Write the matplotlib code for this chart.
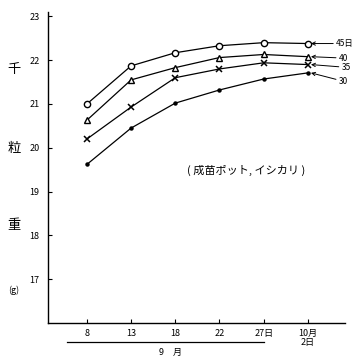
import matplotlib
matplotlib.use("Agg")
import matplotlib.pyplot as plt
from matplotlib.transforms import blended_transform_factory

plt.rcParams['font.family'] = ['Noto Sans CJK JP', 'DejaVu Sans']

dates = ["8", "13", "18", "22", "27日", "10月\n2日"]
yticks = [17, 18, 19, 20, 21, 22, 23]
ytick_labels = ["17", "18", "19", "20", "21", "22", "23"]

s45 = [21.00, 21.87, 22.17, 22.33, 22.40, 22.38]
s40 = [20.63, 21.55, 21.83, 22.06, 22.13, 22.08]
s35 = [20.20, 20.93, 21.60, 21.80, 21.94, 21.90]
s30 = [19.62, 20.45, 21.02, 21.32, 21.57, 21.71]

series = [
    (s45, "45日", dict(marker='o', ms=4.5, mfc='white', mec='black', mew=1.0)),
    (s40, "40", dict(marker='^', ms=4.5, mfc='white', mec='black', mew=1.0)),
    (s35, "35", dict(marker='x', ms=4.5, mec='black', mew=1.1)),
    (s30, "30", dict(marker='o', ms=2.2, mfc='black', mec='black')),
]

fig = plt.figure(figsize=(3.61, 3.61), dpi=100)
ax = fig.add_axes([48/361, 38/361, 297/361, 311/361])
x = list(range(len(dates)))
for vals, lab, st in series:
    ax.plot(x, vals, color='black', lw=0.9, **st)

ax.set_xlim(-0.88, 5.84)
ax.set_ylim(16, 23.1)
ax.set_xticks(x)
ax.set_xticklabels(dates, fontsize=6.5, style='italic', linespacing=1.0)
ax.set_yticks(yticks)
ax.set_yticklabels(ytick_labels, fontsize=6.5, style='italic')
ax.tick_params(axis='both', direction='in', length=3, width=0.8, pad=4)
ax.tick_params(axis='y', pad=6)
for sp in ['top', 'right']:
    ax.spines[sp].set_visible(False)
for sp in ['left', 'bottom']:
    ax.spines[sp].set_linewidth(1.0)

# right-side labels with arrows
offsets = [(18, 0), (20, -1), (22, -2), (20, -6)]
for (vals, lab, st), off in zip(series, offsets):
    ax.annotate(lab, xy=(5 + 0.07, vals[-1]), xytext=off, textcoords='offset points',
                fontsize=6, style='italic', va='center', ha='left',
                arrowprops=dict(arrowstyle='->', lw=0.7, color='black', shrinkA=0, shrinkB=0))

# annotation
ax.text(3.6, 19.48, "( 成苗ポット, イシカリ )", fontsize=8, ha='center', va='center')

# y label (vertical characters)
fig.text(14/361, 1 - 70/361, "千", fontsize=9.5, ha='center', va='center')
fig.text(14/361, 1 - 148/361, "粒", fontsize=9.5, ha='center', va='center')
fig.text(14/361, 1 - 225/361, "重", fontsize=9.5, ha='center', va='center')
fig.text(14/361, 1 - 290/361, "(g)", fontsize=6.5, ha='center', va='center')

# month bracket under x labels
tr = blended_transform_factory(ax.transData, ax.transAxes)
ax.plot([-0.45, 4.0], [-0.062, -0.062], color='black', lw=0.9, transform=tr, clip_on=False)
ax.text(1.9, -0.095, "9　月", fontsize=6.5, ha='center', va='center', transform=tr)

fig.savefig("out.png", dpi=100, facecolor='white')
